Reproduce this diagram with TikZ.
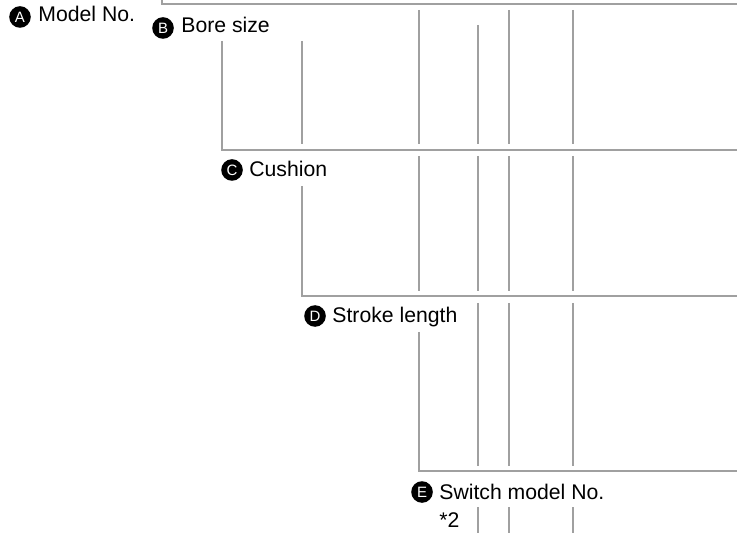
\documentclass[tikz,border=0pt]{standalone}
\usepackage{fontspec}
\setmainfont{Liberation Sans}
\definecolor{rulegray}{RGB}{160,160,160}
\tikzset{
  rule/.style={draw=rulegray, line width=1.2pt},
  badge/.style={circle, fill=black, text=white, inner sep=0pt, minimum size=10.8pt, font=\fontsize{7.5}{7.5}\selectfont},
  lbl/.style={anchor=base west, inner sep=0pt, font=\fontsize{10.6}{12}\selectfont}
}
\begin{document}
\begin{tikzpicture}[x=0.5pt, y=-0.5pt]
			\useasboundingbox (0,0) rectangle (737,533);
			% top bracket
			\draw[rule] (162,0) -- (162,4) -- (737,4);

			% bore size bracket
			\draw[rule] (222,41) -- (222,150) -- (737,150);
			\draw[rule] (302,41) -- (302,144);
			\draw[rule] (419,10) -- (419,144);
			\draw[rule] (478,25) -- (478,144);
			\draw[rule] (509,10) -- (509,144);
			\draw[rule] (573,10) -- (573,144);

			% cushion bracket
			\draw[rule] (302,186) -- (302,296) -- (737,296);
			\draw[rule] (419,156) -- (419,291);
			\draw[rule] (478,156) -- (478,291);
			\draw[rule] (509,156) -- (509,291);
			\draw[rule] (573,156) -- (573,291);

			% stroke length bracket
			\draw[rule] (419,332) -- (419,471) -- (737,471);
			\draw[rule] (478,303) -- (478,466);
			\draw[rule] (509,303) -- (509,466);
			\draw[rule] (573,303) -- (573,466);

			% switch
			\draw[rule] (478,507) -- (478,533);
			\draw[rule] (509,507) -- (509,533);
			\draw[rule] (573,507) -- (573,533);

			\node[badge] (badgeA) at (20,17) {A};
			\node[lbl] (model) at (38,22) {Model No.};
			\node[badge] (badgeB) at (163,28) {B};
			\node[lbl] (bore) at (181,33) {Bore size};
			\node[badge] (badgeC) at (232,170) {C};
			\node[lbl] (cushion) at (249,177) {Cushion};
			\node[badge] (badgeD) at (315,316) {D};
			\node[lbl] (stroke) at (332,323) {Stroke length};
			\node[badge] (badgeE) at (422,492) {E};
			\node[lbl] (switch) at (439,499) {Switch model No.};
			\node[lbl] (note) at (439,527) {*2};
		\end{tikzpicture}
\end{document}
